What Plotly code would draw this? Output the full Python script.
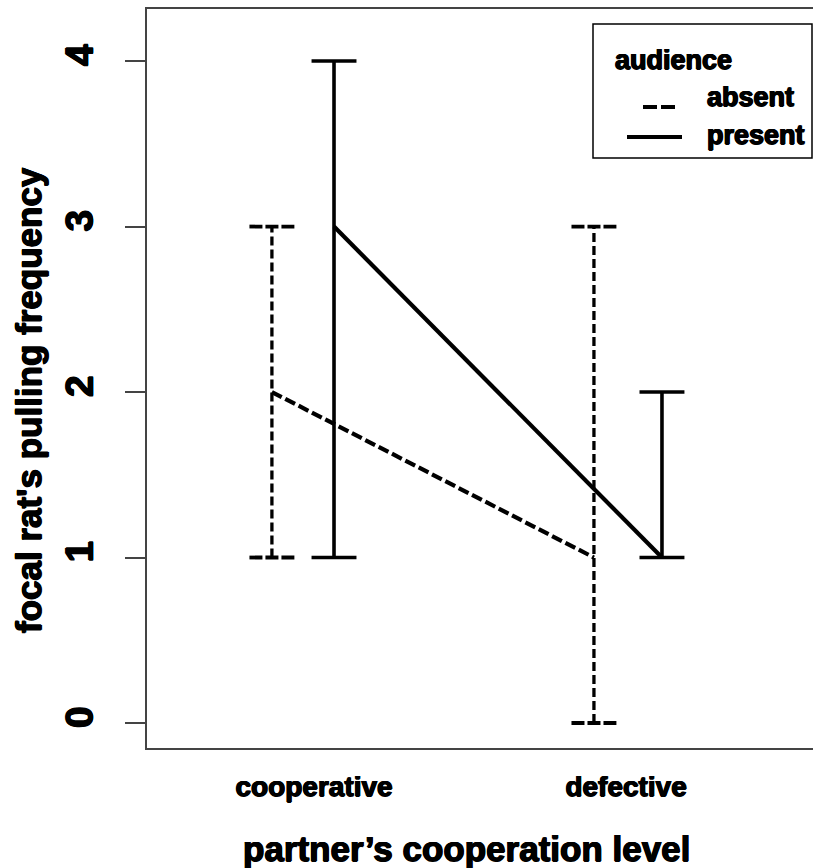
import plotly.graph_objects as go

# ---- data ----
categories = ["cooperative", "defective"]
groups = ["absent", "present"]
absent_mean = [2, 1]
absent_low = [1, 0]
absent_high = [3, 3]
present_mean = [3, 1]
present_low = [1, 1]
present_high = [4, 2]
y_ticks = [0, 1, 2, 3, 4]

# ---- layout geometry (pixels) ----
W, H = 813, 868
L, R, T, B = 147, 0, 9, 120
PW, PH = W - L - R, H - T - B

def px2paper_x(px):
    return (px - L) / PW

def px2paper_y(py):
    return (H - B - py) / PH

# dodge positions for groups (category centres at 1,2)
cat_pos = [1, 2]
dodge_absent = [-0.135, -0.103]
dodge_present = [0.064, 0.115]
cap_half = 0.072
FONT = "Liberation Sans"
HEAVY = "0.7px 0px 0px black, -0.7px 0px 0px black, 0px 0.5px 0px black, 0px -0.5px 0px black"

def fnt(size):
    return dict(family=FONT, size=size, color="black", weight="bold", shadow=HEAVY)

def vert_xy(xs, lo, hi):
    X, Y = [], []
    for x, l, h in zip(xs, lo, hi):
        X += [x, x, None]
        Y += [l, h, None]
    return X, Y

def caps_xy(xs, lo, hi):
    X, Y = [], []
    for x, l, h in zip(xs, lo, hi):
        X += [x - cap_half, x + cap_half, None, x - cap_half, x + cap_half, None]
        Y += [h, h, None, l, l, None]
    return X, Y

xa = [c + d for c, d in zip(cat_pos, dodge_absent)]
xp = [c + d for c, d in zip(cat_pos, dodge_present)]

fig = go.Figure()
vx, vy = vert_xy(xa, absent_low, absent_high)
fig.add_trace(go.Scatter(x=vx, y=vy, mode="lines", showlegend=False,
                         line=dict(color="black", width=3.3, dash="9px,4px")))
cx, cy = caps_xy(xa, absent_low, absent_high)
fig.add_trace(go.Scatter(x=cx, y=cy, mode="lines", showlegend=False,
                         line=dict(color="black", width=3.8, dash="13px,3px")))
vx, vy = vert_xy(xp, present_low, present_high)
fig.add_trace(go.Scatter(x=vx, y=vy, mode="lines", showlegend=False,
                         line=dict(color="black", width=3.6)))
cx, cy = caps_xy(xp, present_low, present_high)
fig.add_trace(go.Scatter(x=cx, y=cy, mode="lines", showlegend=False,
                         line=dict(color="black", width=3.6)))
fig.add_trace(go.Scatter(x=xa, y=absent_mean, mode="lines", showlegend=False,
                         line=dict(color="black", width=4.2, dash="11px,4px")))
fig.add_trace(go.Scatter(x=xp, y=present_mean, mode="lines", showlegend=False,
                         line=dict(color="black", width=4.2)))

axis_col = "#444444"
fig.update_xaxes(range=[0.4647, 2.599], tickvals=cat_pos, ticktext=categories,
                 showline=True, mirror=True, linecolor=axis_col, linewidth=1.5,
                 ticks="", showgrid=False, zeroline=False, ticklabelstandoff=13,
                 tickfont=fnt(28))
fig.update_yaxes(range=[-0.151, 4.3145], tickvals=y_ticks,
                 showline=True, mirror=False, linecolor=axis_col, linewidth=1.5,
                 ticks="outside", ticklen=20, tickwidth=1.5, tickcolor=axis_col,
                 showgrid=False, zeroline=False, tickangle=-90, ticklabelstandoff=17,
                 tickfont=fnt(39))

ann = []
ann.append(dict(text="partner’s cooperation level", x=px2paper_x(466), y=px2paper_y(848),
                xref="paper", yref="paper", showarrow=False, xanchor="center", yanchor="middle",
                font=fnt(35)))
ann.append(dict(text="focal rat's pulling frequency", x=px2paper_x(29), y=px2paper_y(400),
                xref="paper", yref="paper", showarrow=False, xanchor="center", yanchor="middle",
                textangle=-90, font=fnt(35)))
# legend
ann.append(dict(text="audience", x=px2paper_x(613), y=px2paper_y(60), xref="paper", yref="paper",
                showarrow=False, xanchor="left", yanchor="middle", font=fnt(27)))
for name, yy in zip(groups, [97, 135]):
    ann.append(dict(text=name, x=px2paper_x(705), y=px2paper_y(yy), xref="paper", yref="paper",
                    showarrow=False, xanchor="left", yanchor="middle", font=fnt(27)))

shapes = [
    dict(type="rect", xref="paper", yref="paper", x0=px2paper_x(593), x1=px2paper_x(812),
         y0=px2paper_y(158), y1=px2paper_y(24), line=dict(color="black", width=1.5),
         fillcolor="white", layer="below"),
    dict(type="line", xref="paper", yref="paper", x0=px2paper_x(643), x1=px2paper_x(675),
         y0=px2paper_y(107), y1=px2paper_y(107), line=dict(color="black", width=4, dash="14px,4px")),
    dict(type="line", xref="paper", yref="paper", x0=px2paper_x(627), x1=px2paper_x(682),
         y0=px2paper_y(137), y1=px2paper_y(137), line=dict(color="black", width=4)),
]

fig.update_layout(width=W, height=H, margin=dict(l=L, r=R, t=T, b=B),
                  plot_bgcolor="white", paper_bgcolor="white",
                  annotations=ann, shapes=shapes, showlegend=False)
fig.write_html("out.html", config={"displayModeBar": False},
               post_script="document.body.style.margin='0';document.body.style.overflow='hidden';")
